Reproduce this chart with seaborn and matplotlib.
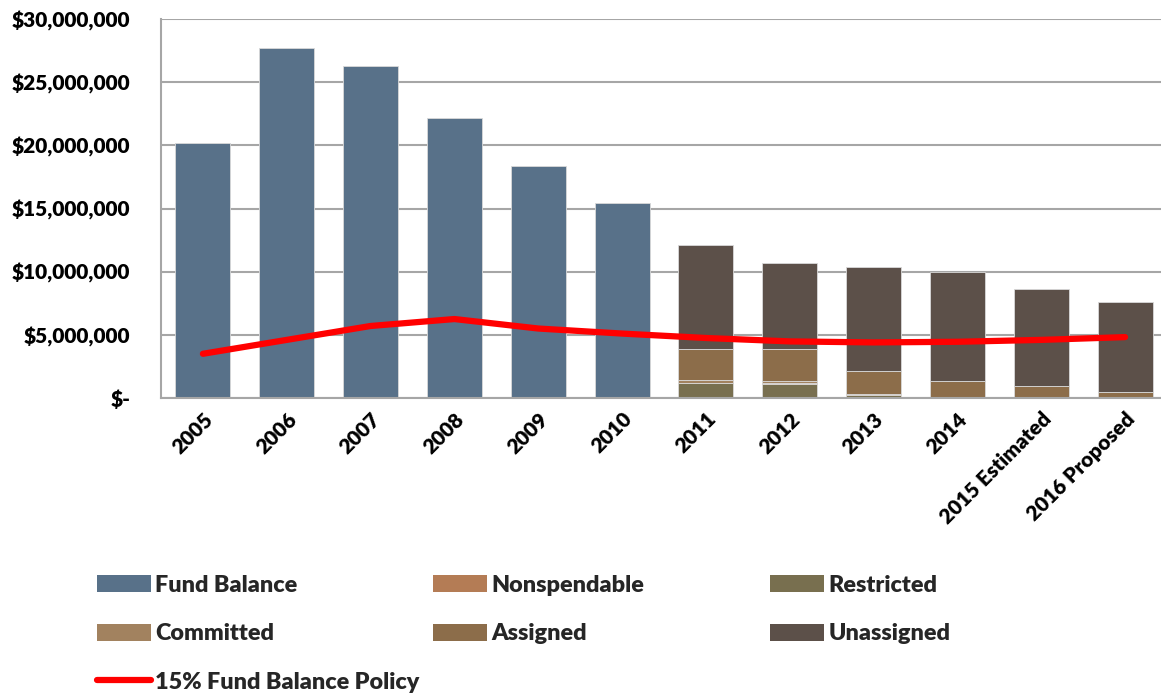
import numpy as np
import pandas as pd
import matplotlib
matplotlib.use("Agg")
import matplotlib.pyplot as plt
from matplotlib.patches import Patch
from matplotlib.lines import Line2D
from matplotlib.ticker import FuncFormatter, FixedLocator
import seaborn as sns

# ---- data ----
years = ["2005", "2006", "2007", "2008", "2009", "2010", "2011", "2012",
         "2013", "2014", "2015 Estimated", "2016 Proposed"]
fund_balance = [20.2e6, 27.7e6, 26.3e6, 22.2e6, 18.4e6, 15.4e6,
                np.nan, np.nan, np.nan, np.nan, np.nan, np.nan]
restricted = [0, 0, 0, 0, 0, 0, 1.18e6, 1.13e6, 0.26e6, 0.05e6, 0.02e6, 0.0]
nonspendable = [0, 0, 0, 0, 0, 0, 0.03e6, 0.03e6, 0.02e6, 0.01e6, 0.01e6, 0.01e6]
committed = [0, 0, 0, 0, 0, 0, 0.18e6, 0.15e6, 0.04e6, 0.0, 0.0, 0.0]
assigned = [0, 0, 0, 0, 0, 0, 2.51e6, 2.59e6, 1.84e6, 1.31e6, 0.94e6, 0.43e6]
unassigned = [0, 0, 0, 0, 0, 0, 8.2e6, 6.75e6, 8.2e6, 8.63e6, 7.65e6, 7.18e6]
policy = [3.5e6, 4.6e6, 5.7e6, 6.25e6, 5.5e6, 5.1e6, 4.75e6, 4.48e6,
          4.4e6, 4.45e6, 4.6e6, 4.82e6]

colors = {
    "Fund Balance": "#587189",
    "Nonspendable": "#B47C55",
    "Restricted": "#786F4F",
    "Committed": "#A2825F",
    "Assigned": "#8C6D4A",
    "Unassigned": "#5C5049",
}
line_color = "#FF0000"

sns.set_theme(style="white")
plt.rcParams["font.family"] = ["Lato", "DejaVu Sans"]
plt.rcParams["font.weight"] = "heavy"

df = pd.DataFrame({"year": years, "fund": fund_balance, "policy": policy})

fig = plt.figure(figsize=(11.61, 6.96), dpi=100)
ax = fig.add_axes([161 / 1161, 1 - 398 / 696, 1006 / 1161, 379 / 696])

grid_c = "#A6A6A6"
ax.set_axisbelow(True)
ax.yaxis.grid(True, color=grid_c, linewidth=1.5)

bar_w = 0.655
edge = dict(edgecolor="#D9D9D9", linewidth=0.6)

# pre-2011 total fund balance
sns.barplot(data=df, x="year", y="fund", order=years, color=colors["Fund Balance"],
            width=bar_w, saturation=1, ax=ax, **edge)

# GASB 54 components from 2011 on, stacked
x = np.arange(len(years))
bottom = np.zeros(len(years))
for name, vals in [("Restricted", restricted), ("Nonspendable", nonspendable),
                   ("Committed", committed), ("Assigned", assigned),
                   ("Unassigned", unassigned)]:
    vals = np.asarray(vals, dtype=float)
    mask = vals > 0
    ax.bar(x[mask], vals[mask], bottom=bottom[mask], width=bar_w,
           color=colors[name], **edge)
    bottom += vals

# 15% policy line
sns.lineplot(data=df, x="year", y="policy", color=line_color, linewidth=4.5,
             solid_capstyle="round", ax=ax, sort=False)

ax.set_xlim(-0.5, len(years) - 0.5)
ax.set_ylim(0, 30e6)
ax.set_yticks(np.arange(0, 30e6 + 1, 5e6))
ax.yaxis.set_major_formatter(FuncFormatter(lambda v, p: "$-" if v == 0 else f"${v:,.0f}"))
ax.set_xlabel("")
ax.set_ylabel("")

for s in ["top", "right"]:
    ax.spines[s].set_visible(False)
for s in ["left", "bottom"]:
    ax.spines[s].set_color(grid_c)
    ax.spines[s].set_linewidth(1.5)

ax.set_xticks(x)
ax.set_xticklabels(years, rotation=45, ha="right", rotation_mode="anchor",
                   fontsize=15, fontweight="heavy", color="black")
ax.tick_params(axis="x", which="major", length=0, pad=8)
ax.xaxis.set_minor_locator(FixedLocator(np.arange(-0.5, len(years), 1.0)))
ax.tick_params(axis="x", which="minor", length=6, width=1.5, color=grid_c, direction="out")
ax.tick_params(axis="y", length=6, width=1.5, color=grid_c, direction="out",
               labelsize=15, labelcolor="black", pad=16)
for t in ax.get_yticklabels():
    t.set_fontweight("heavy")

# legend laid out in three columns
def handle(name):
    return Patch(facecolor=colors[name], edgecolor="none")

policy_handle = Line2D([0], [0], color=line_color, linewidth=4.5, solid_capstyle="round")
columns = [
    ([handle("Fund Balance"), handle("Committed"), policy_handle],
     ["Fund Balance", "Committed", "15% Fund Balance Policy"], 97),
    ([handle("Nonspendable"), handle("Assigned")], ["Nonspendable", "Assigned"], 433),
    ([handle("Restricted"), handle("Unassigned")], ["Restricted", "Unassigned"], 770),
]
for hs, labels, xpx in columns:
    fig.legend(hs, labels, loc="upper left",
               bbox_to_anchor=(xpx / 1161, 1 - 575 / 696),
               frameon=False, handlelength=2.3, handleheight=0.75,
               handletextpad=0.2, labelspacing=1.17, borderpad=0, borderaxespad=0,
               prop={"weight": "heavy", "size": 16.8})

fig.savefig("out.png", dpi=100)
